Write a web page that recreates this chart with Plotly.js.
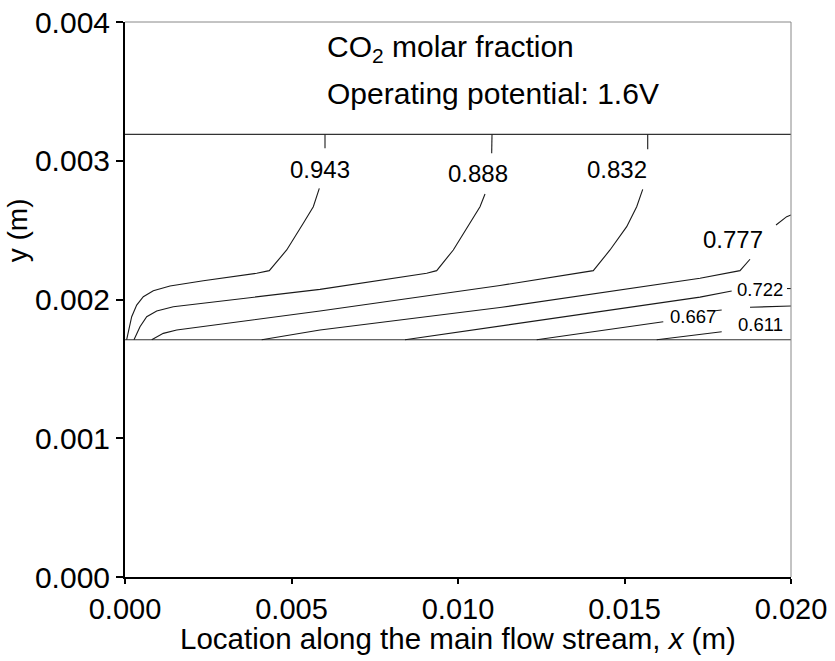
<!DOCTYPE html>
<html><head><meta charset="utf-8">
<script src="https://cdn.plot.ly/plotly-3.0.1.min.js"></script>
<style>html,body{margin:0;padding:0;background:#fff}</style>
</head><body><div id="chart" style="width:835px;height:661px"></div>
<script>
// ---- data (metres) ----
const levels = ['0.943', '0.888', '0.832', '0.777', '0.722', '0.667', '0.611'];

const c943x = [0.00005, 0.000105, 0.000201, 0.000351, 0.000550, 0.000850, 0.001351, 0.002351, 0.003955, 0.004333, 0.004856, 0.005354, 0.005655, 0.005835, null, 0.006006, 0.006006];
const c943y = [0.00171, 0.001780, 0.001876, 0.001960, 0.002020, 0.002063, 0.002097, 0.002135, 0.002189, 0.002208, 0.002357, 0.002549, 0.002669, 0.002801, null, 0.003090, 0.00319];

const c888x = [0.000270, 0.000450, 0.000652, 0.000952, 0.001450, 0.005856, 0.009060, 0.009360, 0.009859, 0.010360, 0.010661, 0.010811, null, 0.011012, 0.011021];
const c888y = [0.00171, 0.001804, 0.001876, 0.001917, 0.001948, 0.002073, 0.002189, 0.002208, 0.002357, 0.002549, 0.002669, 0.002760, null, 0.003054, 0.00319];

const c832x = [0.000802, 0.001150, 0.001553, 0.005856, 0.011261, 0.013664, 0.014063, 0.014565, 0.015066, 0.015366, 0.015547, null, 0.015697, 0.015697];
const c832y = [0.00171, 0.001756, 0.001780, 0.001917, 0.002101, 0.002189, 0.002208, 0.002357, 0.002525, 0.002669, 0.002794, null, 0.003082, 0.00319];

const c777x = [0.004105, 0.005856, 0.011261, 0.015766, 0.017267, 0.018468, 0.018769, null, 0.019550, 0.019871, 0.020];
const c777y = [0.00171, 0.001780, 0.001942, 0.002097, 0.002153, 0.002208, 0.002290, null, 0.002537, 0.002597, 0.002609];

const c722x = [0.008408, 0.011261, 0.016165, 0.017267, 0.018219, null, 0.01988, 0.020];
const c722y = [0.00171, 0.001809, 0.001978, 0.002017, 0.002061, null, 0.002079, 0.002079];

const c667x = [0.012363, 0.016165, null, 0.017718, 0.017919, null, 0.018769, 0.020];
const c667y = [0.00171, 0.001840, null, 0.001919, 0.001924, null, 0.001944, 0.001953];

const c611x = [0.015967, 0.017919];
const c611y = [0.00171, 0.001768];

const bandX = [0, 0.020];
const bandTopY = [0.00319, 0.00319];
const bandBottomY = [0.00171, 0.00171];

const labelX = [0.005856, 0.010610, 0.014766, 0.018268, 0.019069, 0.017066, 0.019069];
const labelY = [0.002938, 0.002910, 0.002938, 0.002429, 0.002073, 0.001881, 0.001823];

const xTicks = [0, 0.005, 0.010, 0.015, 0.020];
const xTickText = ['0.000', '0.005', '0.010', '0.015', '0.020'];
const yTicks = [0, 0.001, 0.002, 0.003, 0.004];
const yTickText = ['0.000', '0.001', '0.002', '0.003', '0.004'];

// ---- build ----
const FONT = 'Arial, "Liberation Sans", sans-serif';
const lineStyle = {color: '#1a1a1a', width: 1.1};
const contours = [[c943x, c943y], [c888x, c888y], [c832x, c832y], [c777x, c777y], [c722x, c722y], [c667x, c667y], [c611x, c611y]];

const traces = [];
traces.push({x: bandX, y: bandTopY, mode: 'lines', line: {color: '#333', width: 1.2}, hoverinfo: 'skip'});
traces.push({x: bandX, y: bandBottomY, mode: 'lines', line: {color: '#333', width: 1.2}, hoverinfo: 'skip'});
contours.forEach(c => traces.push({x: c[0], y: c[1], mode: 'lines', line: lineStyle, connectgaps: false, hoverinfo: 'skip'}));

const annotations = levels.map((t, i) => ({
  x: labelX[i], y: labelY[i], xref: 'x', yref: 'y', text: t, showarrow: false,
  font: {family: FONT, size: i < 4 ? 24 : 18.5, color: '#000'}
}));
annotations.push({xref: 'paper', yref: 'paper', x: 0.300, y: 0.953, xanchor: 'left', yanchor: 'middle', showarrow: false,
  text: 'CO<sub>2</sub> molar fraction', font: {family: FONT, size: 30, color: '#000'}});
annotations.push({xref: 'paper', yref: 'paper', x: 0.300, y: 0.872, xanchor: 'left', yanchor: 'middle', showarrow: false,
  text: 'Operating potential: 1.6V', font: {family: FONT, size: 30, color: '#000'}});
annotations.push({xref: 'paper', yref: 'paper', x: -0.162, y: 0.625, xanchor: 'center', yanchor: 'middle', showarrow: false,
  textangle: -90, text: 'y (m)', font: {family: FONT, size: 28, color: '#000'}});
annotations.push({xref: 'paper', yref: 'paper', x: 0.5, y: -0.11, xanchor: 'center', yanchor: 'middle', showarrow: false,
  text: 'Location along the main flow stream, <i>x</i> (m)', font: {family: FONT, size: 29.5, color: '#000'}});

const layout = {
  width: 835, height: 661,
  margin: {l: 125, r: 44, t: 22, b: 84},
  paper_bgcolor: '#fff', plot_bgcolor: '#fff',
  showlegend: false,
  font: {family: FONT, color: '#000'},
  xaxis: {
    range: [0, 0.020], tickvals: xTicks, ticktext: xTickText,
    showgrid: false, zeroline: false, showline: true, linecolor: '#000', linewidth: 2,
    ticks: 'outside', ticklen: 5, tickwidth: 2, tickcolor: '#000',
    tickfont: {family: FONT, size: 29, color: '#000'}
  },
  yaxis: {
    range: [0, 0.004], tickvals: yTicks, ticktext: yTickText,
    showgrid: false, zeroline: false, showline: true, linecolor: '#000', linewidth: 2,
    ticks: 'outside', ticklen: 7, tickwidth: 2, tickcolor: '#000',
    tickfont: {family: FONT, size: 30, color: '#000'}
  },
  shapes: [
    {type: 'line', xref: 'paper', yref: 'paper', x0: 0, x1: 1, y0: 1, y1: 1, line: {color: '#888', width: 1}},
    {type: 'line', xref: 'paper', yref: 'paper', x0: 1, x1: 1, y0: 0, y1: 1, line: {color: '#888', width: 1}}
  ],
  annotations: annotations
};

Plotly.newPlot('chart', traces, layout, {displayModeBar: false, staticPlot: true});
</script>
</body></html>
